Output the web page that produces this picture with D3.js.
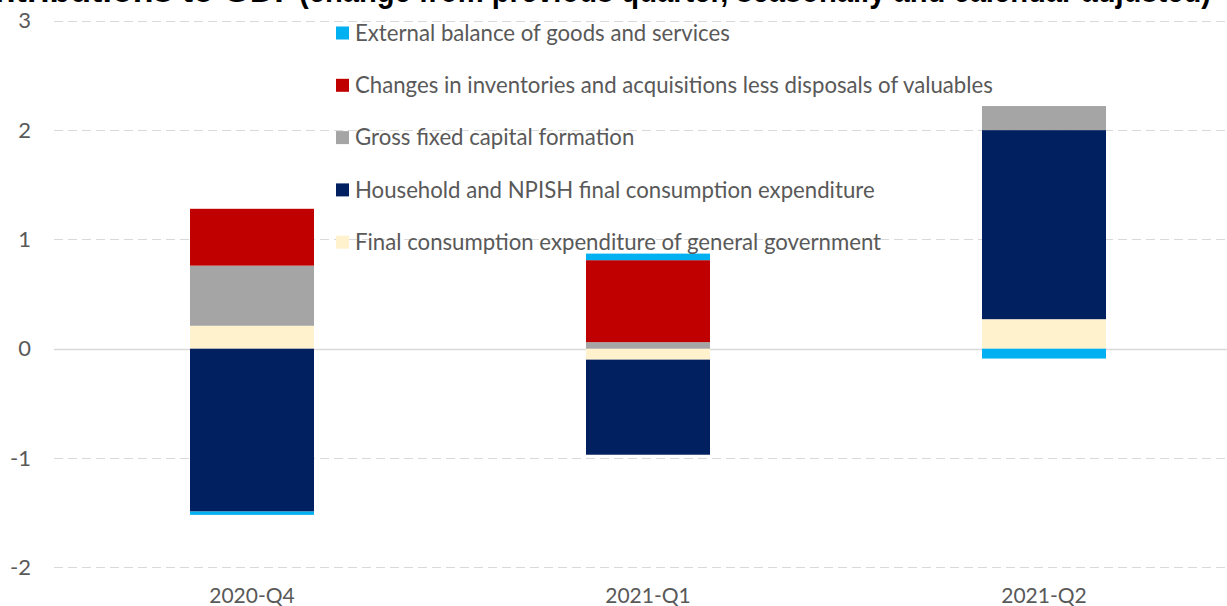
<!DOCTYPE html>
<html>
<head>
<meta charset="utf-8">
<script src="https://cdn.jsdelivr.net/npm/d3@7"></script>
<style>
  html, body { margin: 0; padding: 0; background: #fff; overflow: hidden; }
  svg { display: block; }
</style>
</head>
<body>
<svg id="chart" width="1227" height="606"></svg>
<script>
// Quarterly contributions to GDP growth, percentage points
const categories = ["2020-Q4", "2021-Q1", "2021-Q2"];
const govValues = [0.21, -0.10, 0.27];
const householdValues = [-1.49, -0.87, 1.73];
const gfcfValues = [0.55, 0.06, 0.22];
const inventoryValues = [0.52, 0.75, 0.00];
const externalValues = [-0.03, 0.06, -0.09];

// Stacking order (bottom to top)
const seriesKeys = ["gov", "household", "gfcf", "inventories", "external"];
const seriesLabels = {
  gov: "Final consumption expenditure of general government",
  household: "Household and NPISH final consumption expenditure",
  gfcf: "Gross fixed capital formation",
  inventories: "Changes in inventories and acquisitions less disposals of valuables",
  external: "External balance of goods and services"
};
const seriesColors = {
  gov: "#FFF2CC",
  household: "#002060",
  gfcf: "#A5A5A5",
  inventories: "#C00000",
  external: "#00B0F0"
};
const legendOrder = ["external", "inventories", "gfcf", "household", "gov"];
const yTicks = [-2, -1, 0, 1, 2, 3];

const titleMain = "Contributions to GDP ";
const titleSub = "(change from previous quarter, seasonally and calendar adjusted)";

const rows = categories.map((c, i) => ({
  category: c,
  gov: govValues[i],
  household: householdValues[i],
  gfcf: gfcfValues[i],
  inventories: inventoryValues[i],
  external: externalValues[i]
}));

const svg = d3.select("#chart");
const textFont = "Lato, 'Open Sans', sans-serif";
const textColor = "#595959";

const x = d3.scaleBand().domain(categories).range([54, 1242]).padding(0);
const y = d3.scaleLinear().domain([-2, 3]).range([567.3, 20.8]);
const barWidth = 124;

// Gridlines
const grid = svg.append("g");
grid.selectAll("line.grid")
  .data(yTicks)
  .join("line")
  .attr("x1", 54)
  .attr("x2", 1242)
  .attr("y1", d => Math.round(y(d)) + 0.5)
  .attr("y2", d => Math.round(y(d)) + 0.5)
  .attr("stroke", "#D9D9D9")
  .attr("stroke-width", d => d === 0 ? 1.6 : 1.2)
  .attr("stroke-dasharray", d => d === 0 ? null : "9,5");

// Y axis labels
const yAxis = d3.axisLeft(y).tickValues(yTicks).tickSize(0).tickPadding(0).tickFormat(d => String(d));
const yg = svg.append("g").attr("transform", "translate(31,0)").call(yAxis);
yg.select(".domain").remove();
yg.selectAll("text")
  .attr("font-family", textFont)
  .attr("font-size", 22)
  .attr("fill", textColor);

// X axis labels
const xAxis = d3.axisBottom(x).tickSize(0).tickPadding(0);
const xg = svg.append("g").attr("transform", "translate(0,588)").call(xAxis);
xg.select(".domain").remove();
xg.selectAll("text")
  .attr("font-family", textFont)
  .attr("font-size", 21)
  .attr("fill", textColor);

// Stacked bars
const stacked = d3.stack().keys(seriesKeys).offset(d3.stackOffsetDiverging)(rows);
const bars = svg.append("g");
stacked.forEach(layer => {
  bars.append("g")
    .attr("fill", seriesColors[layer.key])
    .selectAll("rect")
    .data(layer)
    .join("rect")
    .attr("x", d => x(d.data.category) + x.bandwidth() / 2 - barWidth / 2)
    .attr("width", barWidth)
    .attr("y", d => y(Math.max(d[0], d[1])))
    .attr("height", d => Math.abs(y(d[0]) - y(d[1])));
});

// Legend
const legend = svg.append("g");
legendOrder.forEach((key, i) => {
  const cy = 33 + i * 52.3;
  legend.append("rect")
    .attr("x", 336).attr("y", cy - 6.5)
    .attr("width", 13).attr("height", 13)
    .attr("fill", seriesColors[key]);
  legend.append("text")
    .attr("x", 355).attr("y", cy)
    .attr("dy", "0.35em")
    .attr("font-family", textFont)
    .attr("font-size", 22.2)
    .attr("fill", textColor)
    .text(seriesLabels[key]);
});

// Title, partly above the top edge
svg.append("text")
  .attr("x", 297).attr("y", 2)
  .attr("text-anchor", "end")
  .attr("font-family", "'Liberation Sans', Arial, sans-serif")
  .attr("font-weight", "bold")
  .attr("font-size", 34)
  .attr("fill", "#000")
  .text(titleMain);
svg.append("text")
  .attr("x", 299).attr("y", 2)
  .attr("font-family", "'Liberation Sans', Arial, sans-serif")
  .attr("font-weight", "bold")
  .attr("font-size", 34)
  .attr("fill", "#000")
  .attr("textLength", 912)
  .attr("lengthAdjust", "spacingAndGlyphs")
  .text(titleSub);
</script>
</body>
</html>
